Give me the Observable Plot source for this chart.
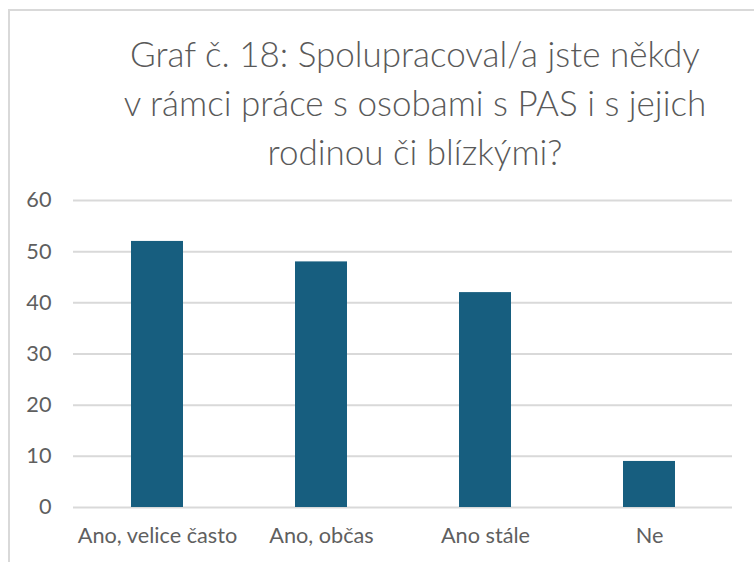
<!DOCTYPE html>
<html>
<head>
<meta charset="utf-8">
<script src="https://cdn.jsdelivr.net/npm/d3@7"></script>
<script src="https://cdn.jsdelivr.net/npm/@observablehq/plot@0.6"></script>
<style>
  html, body { margin: 0; padding: 0; background: #fff; }
  #wrap { position: relative; width: 754px; height: 562px; overflow: hidden; background: #fff; }
  #frame { position: absolute; left: 8px; top: 9px; width: 760px; height: 600px; border-top: 2px solid #d9d9d9; border-left: 2px solid #d9d9d9; box-sizing: border-box; }
  #title { position: absolute; left: 70px; width: 690px; top: 29px; text-align: center; font-family: Lato, "Open Sans", sans-serif; font-weight: 300; font-size: 35px; line-height: 49px; color: #595959; }
  #chart { position: absolute; left: 0; top: 180px; }
  #chart svg text { font-size: 21.7px; font-family: Lato, "Open Sans", sans-serif; }
</style>
</head>
<body>
<div id="wrap">
  <div id="frame"></div>
  <div id="title">Graf č. 18: Spolupracoval/a jste někdy<br>v rámci práce s osobami s PAS i s jejich<br>rodinou či blízkými?</div>
  <div id="chart"></div>
</div>
<script>
const categories = ["Ano, velice často", "Ano, občas", "Ano stále", "Ne"];
const values = [52, 48, 42, 9];
const yTicks = [0, 10, 20, 30, 40, 50, 60];

const data = categories.map((c, i) => ({category: c, value: values[i]}));

const plot = Plot.plot({
  width: 754,
  height: 382,
  marginLeft: 73,
  marginRight: 22,
  marginTop: 20,
  marginBottom: 55,
  style: {fontFamily: "Lato, 'Open Sans', sans-serif", color: "#5f5f5f", background: "transparent"},
  x: {domain: categories, paddingInner: 0.684, paddingOuter: 0.342, label: null},
  y: {domain: [0, 60], label: null},
  marks: [
    Plot.gridY(yTicks, {stroke: "#d9d9d9", strokeOpacity: 1, strokeWidth: 2}),
    Plot.barY(data, {x: "category", y: "value", fill: "#175e7f"}),
    Plot.axisY(yTicks, {tickSize: 0, tickPadding: 22, fontSize: 21.7, fill: "#5f5f5f", label: null}),
    Plot.axisX({tickSize: 0, tickPadding: 20, fontSize: 21.7, fill: "#5f5f5f", label: null})
  ]
});
document.getElementById("chart").appendChild(plot);
</script>
</body>
</html>
